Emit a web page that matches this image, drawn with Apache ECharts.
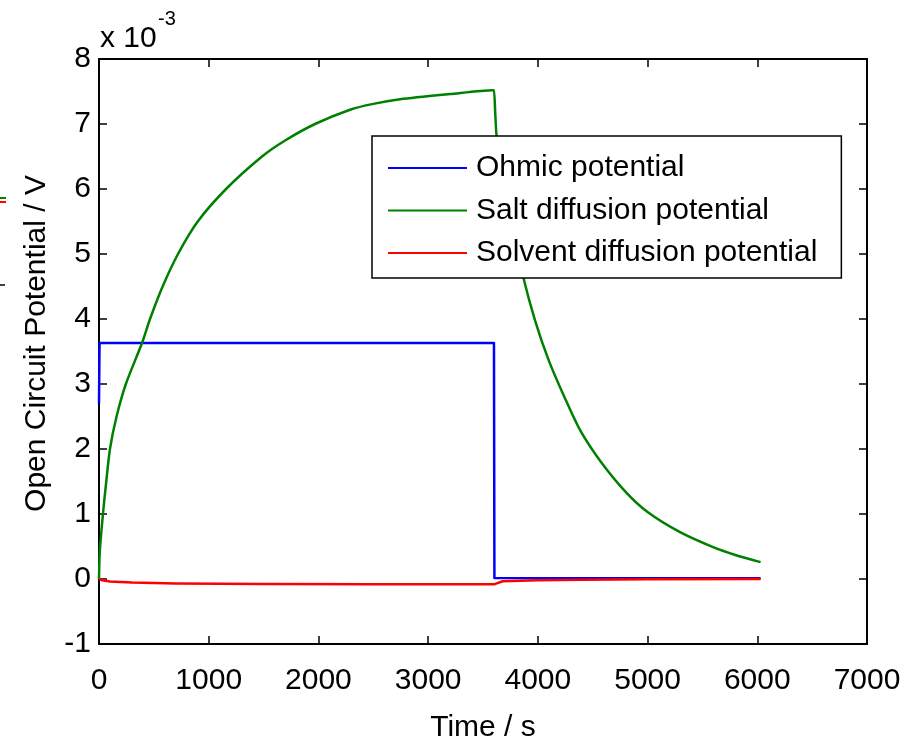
<!DOCTYPE html>
<html>
<head>
<meta charset="utf-8">
<title>Open Circuit Potential</title>
<script src="https://cdn.jsdelivr.net/npm/echarts@6/dist/echarts.min.js"></script>
<style>
  html, body { margin: 0; padding: 0; background: #fff; }
  #chart { width: 922px; height: 739px; }
</style>
</head>
<body>
<div id="chart"></div>
<script>
// Potentials in units of 1e-3 V against time in seconds
const seriesNames = ['Ohmic potential', 'Salt diffusion potential', 'Solvent diffusion potential'];

const ohmicTime  = [0, 5, 3600, 3604, 6030];
const ohmicValue = [2.7, 3.63, 3.63, 0.015, 0.01];

const saltTime  = [0, 5, 15, 36, 60, 100, 160, 245, 392, 465, 580, 720, 900, 1158, 1486, 1700, 1969, 2288, 2500, 2744, 3200, 3590,
                   3600, 3612, 3625, 3700, 3780, 3866, 3974, 4100, 4250, 4385, 4567, 4800, 5000, 5296, 5597, 5800, 6030];
const saltValue = [0, 0.35, 0.6, 1.0, 1.4, 2.0, 2.5, 3.0, 3.63, 4.0, 4.5, 5.0, 5.5, 6.0, 6.5, 6.75, 7.0, 7.22, 7.31, 7.38, 7.46, 7.52,
                   7.52, 7.15, 6.8, 6.04, 5.33, 4.65, 3.98, 3.36, 2.77, 2.29, 1.82, 1.34, 1.03, 0.72, 0.49, 0.37, 0.26];

const solventTime  = [0, 30, 100, 300, 700, 1500, 2500, 3600, 3610, 3680, 4000, 4400, 5000, 6030];
const solventValue = [0, -0.02, -0.04, -0.055, -0.068, -0.078, -0.082, -0.082, -0.06, -0.035, -0.02, -0.01, -0.004, 0];

const xTicks = { min: 0, max: 7000, step: 1000 };
const yTicks = { min: -1, max: 8, step: 1 };

const colors = ['#0000ff', '#008000', '#ff0000'];
const FONT = "'Liberation Sans', Arial, Helvetica, sans-serif";

function pairs(xs, ys) { return xs.map((x, i) => [x, ys[i]]); }

const chart = echarts.init(document.getElementById('chart'), null, { renderer: 'canvas' });

const axisCommon = {
  axisLine: { show: true, onZero: false, lineStyle: { color: '#000', width: 2 } },
  axisTick: { show: true, inside: true, length: 8, lineStyle: { color: '#000', width: 1.5 } },
  splitLine: { show: false }
};

chart.setOption({
  backgroundColor: '#fff',
  animation: false,
  textStyle: { fontFamily: FONT },
  grid: { left: 99, top: 59, right: 55, bottom: 95, containLabel: false, outerBoundsMode: 'none' },
  xAxis: [
    Object.assign({
      type: 'value', position: 'bottom',
      min: xTicks.min, max: xTicks.max, interval: xTicks.step,
      name: 'Time / s', nameLocation: 'middle', nameGap: 69,
      nameTextStyle: { fontSize: 30, color: '#000', fontFamily: FONT },
      axisLabel: { fontSize: 30, color: '#000', fontFamily: FONT, margin: 22, formatter: v => String(v) }
    }, axisCommon),
    Object.assign({
      type: 'value', position: 'top',
      min: xTicks.min, max: xTicks.max, interval: xTicks.step,
      axisLabel: { show: false }
    }, axisCommon)
  ],
  yAxis: [
    Object.assign({
      type: 'value', position: 'left',
      min: yTicks.min, max: yTicks.max, interval: yTicks.step,
      name: 'Open Circuit Potential / V', nameLocation: 'middle', nameGap: 47, nameRotate: 90,
      nameTextStyle: { fontSize: 30, color: '#000', fontFamily: FONT, padding: [0, 0, 0, 16] },
      axisLabel: { fontSize: 30, color: '#000', fontFamily: FONT, margin: 8, padding: [8, 0, 0, 0], formatter: v => String(v) }
    }, axisCommon),
    Object.assign({
      type: 'value', position: 'right',
      min: yTicks.min, max: yTicks.max, interval: yTicks.step,
      axisLabel: { show: false }
    }, axisCommon)
  ],
  legend: {
    orient: 'vertical',
    left: 372, top: 136,
    padding: [16, 24, 9, 16],
    backgroundColor: '#fff',
    borderColor: '#000', borderWidth: 1.5,
    icon: 'rect', itemWidth: 79, itemHeight: 2, itemGap: 10.5,
    textStyle: { fontSize: 30, color: '#000', fontFamily: FONT, lineHeight: 32, padding: [0, 0, 0, 4] },
    data: seriesNames
  },
  series: [
    { name: seriesNames[0], type: 'line', data: pairs(ohmicTime, ohmicValue) },
    { name: seriesNames[1], type: 'line', data: pairs(saltTime, saltValue), smooth: 0.25 },
    { name: seriesNames[2], type: 'line', data: pairs(solventTime, solventValue) }
  ].map((s, i) => Object.assign(s, {
    showSymbol: false, symbol: 'none', color: colors[i],
    lineStyle: { color: colors[i], width: 2.5, join: 'round' },
    itemStyle: { color: colors[i] },
    z: 2 + i
  })),
  graphic: [
    { type: 'text', left: 100, top: 24, style: { text: 'x 10', font: '30px ' + FONT, fill: '#000' } },
    { type: 'text', left: 158, top: 9, style: { text: '-3', font: '20px ' + FONT, fill: '#000' } },
    { type: 'line', shape: { x1: 0, y1: 198, x2: 6, y2: 198 }, style: { stroke: '#008000', lineWidth: 2 } },
    { type: 'line', shape: { x1: 0, y1: 202, x2: 6, y2: 202 }, style: { stroke: '#ff0000', lineWidth: 2 } },
    { type: 'line', shape: { x1: 0, y1: 285, x2: 5, y2: 285 }, style: { stroke: '#000', lineWidth: 1.5 } }
  ]
});
</script>
</body>
</html>
